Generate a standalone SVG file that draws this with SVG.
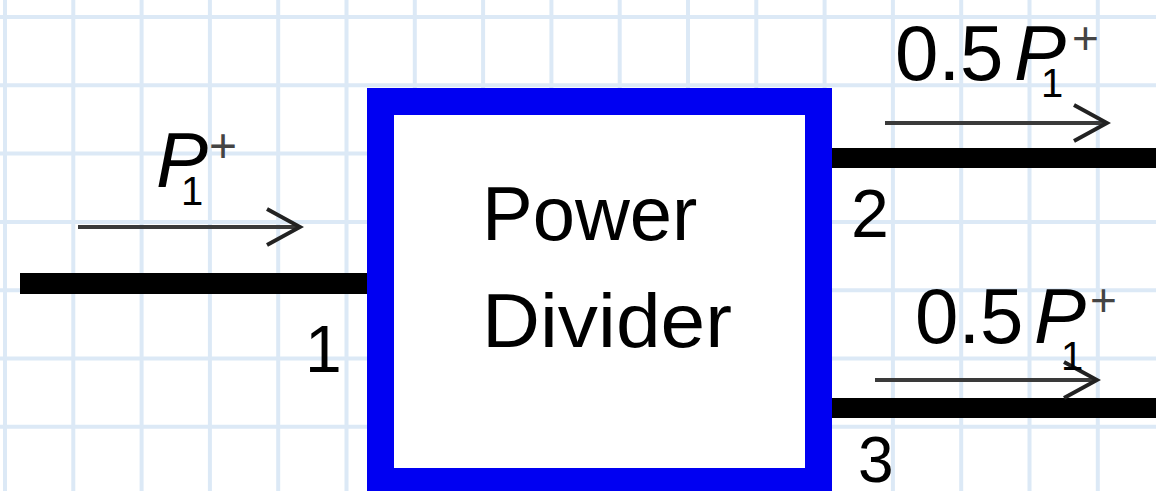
<svg xmlns="http://www.w3.org/2000/svg" width="1156" height="491" viewBox="0 0 1156 491">
<defs>
<style>
.grid line{stroke:#dce9f6;stroke-width:4}
.wire{fill:#000}
.arr{stroke:#3a3a3a;stroke-width:4;fill:none}
.t{font-family:"Liberation Sans",Arial,sans-serif;fill:#000}
.it{font-style:italic}
.pl{fill:#444}
</style>
<marker id="head" viewBox="0 0 40 40" refX="36" refY="20" markerWidth="40" markerHeight="40" markerUnits="userSpaceOnUse" orient="auto">
<path d="M3,2 L36,20 L3,38" fill="none" stroke="#222" stroke-width="4"/>
</marker>
</defs>
<rect width="1156" height="491" fill="#fff"/>
<g class="grid">
<line x1="5" y1="0" x2="5" y2="491"/><line x1="73.3" y1="0" x2="73.3" y2="491"/><line x1="141.6" y1="0" x2="141.6" y2="491"/><line x1="209.9" y1="0" x2="209.9" y2="491"/><line x1="278.2" y1="0" x2="278.2" y2="491"/><line x1="346.5" y1="0" x2="346.5" y2="491"/><line x1="414.8" y1="0" x2="414.8" y2="491"/><line x1="483.1" y1="0" x2="483.1" y2="491"/><line x1="551.4" y1="0" x2="551.4" y2="491"/><line x1="619.7" y1="0" x2="619.7" y2="491"/><line x1="688" y1="0" x2="688" y2="491"/><line x1="756.3" y1="0" x2="756.3" y2="491"/><line x1="824.6" y1="0" x2="824.6" y2="491"/><line x1="892.9" y1="0" x2="892.9" y2="491"/><line x1="961.2" y1="0" x2="961.2" y2="491"/><line x1="1029.5" y1="0" x2="1029.5" y2="491"/><line x1="1097.8" y1="0" x2="1097.8" y2="491"/>
<line x1="0" y1="17" x2="1156" y2="17"/><line x1="0" y1="85.3" x2="1156" y2="85.3"/><line x1="0" y1="153.6" x2="1156" y2="153.6"/><line x1="0" y1="221.9" x2="1156" y2="221.9"/><line x1="0" y1="290.2" x2="1156" y2="290.2"/><line x1="0" y1="358.5" x2="1156" y2="358.5"/><line x1="0" y1="426.8" x2="1156" y2="426.8"/>
</g>
<g id="connectors">
<rect class="wire" x="20" y="273" width="350" height="21"/>
<rect class="wire" x="826" y="148" width="330" height="20"/>
<rect class="wire" x="826" y="398" width="330" height="20"/>
<line class="arr" x1="78" y1="227" x2="300" y2="227" marker-end="url(#head)"/>
<line class="arr" x1="885" y1="123" x2="1107" y2="123" marker-end="url(#head)"/>
<line class="arr" x1="875" y1="380" x2="1097" y2="380" marker-end="url(#head)"/>
</g>
<g id="divider">
<rect x="380.5" y="101.5" width="438" height="380" fill="#fff" stroke="#0000f2" stroke-width="27"/>
<text class="t" x="482" y="240" font-size="76">Power</text>
<text class="t" x="482" y="347" font-size="76" textLength="250" lengthAdjust="spacingAndGlyphs">Divider</text>
</g>
<g id="port1">
<text class="t" x="305" y="372" font-size="66">1</text>
<text class="t it" x="156" y="187" font-size="78">P</text>
<text class="t" x="181" y="205" font-size="40">1</text>
<text class="t pl" x="209" y="162" font-size="48">+</text>
</g>
<g id="port2">
<text class="t" x="851" y="237" font-size="68">2</text>
<text class="t" x="895" y="80" font-size="78">0.5</text>
<text class="t it" x="1014" y="80" font-size="78">P</text>
<text class="t" x="1041" y="97" font-size="40">1</text>
<text class="t pl" x="1072" y="54" font-size="46">+</text>
</g>
<g id="port3">
<text class="t" x="858" y="482" font-size="64">3</text>
<text class="t" x="915" y="343" font-size="78">0.5</text>
<text class="t it" x="1034" y="343" font-size="78">P</text>
<text class="t" x="1061" y="370" font-size="40">1</text>
<text class="t pl" x="1090" y="316" font-size="46">+</text>
</g>
</svg>
